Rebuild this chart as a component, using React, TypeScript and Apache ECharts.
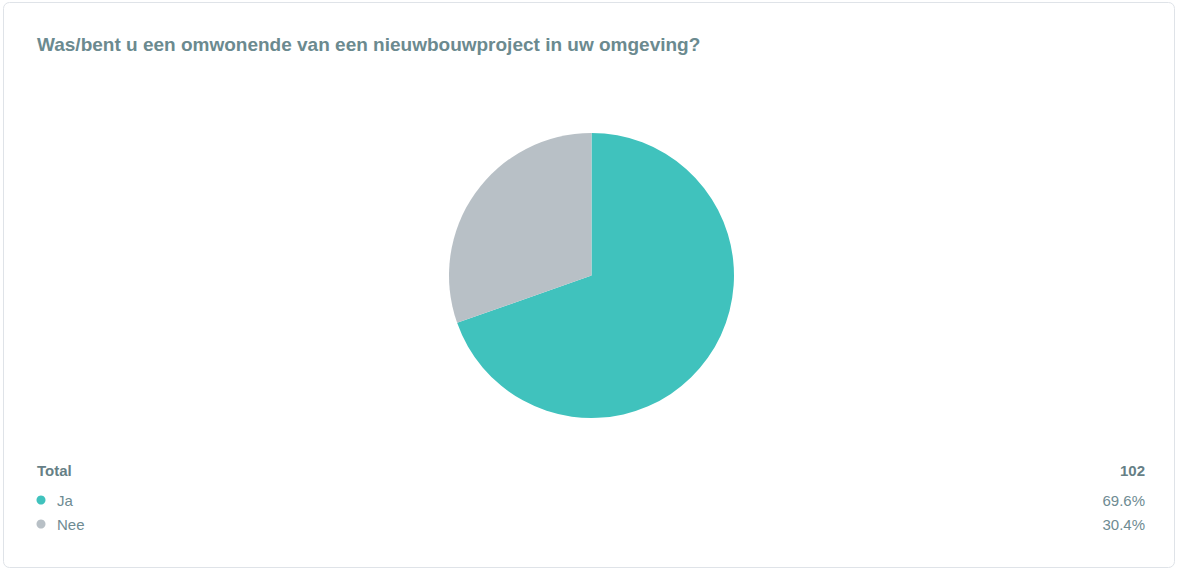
import React, { useEffect, useRef } from "react";
import * as echarts from "echarts";

const titleText = "Was/bent u een omwonende van een nieuwbouwproject in uw omgeving?";
const categories = ["Ja", "Nee"];
const counts = [71, 31];
const colors = ["#40c2bd", "#b8c0c6"];
const totalLabel = "Total";

export default function App() {
  const ref = useRef<HTMLDivElement>(null);
  useEffect(() => {
    if (!ref.current) return;
    const chart = echarts.init(ref.current, null, { renderer: "svg" });
    const total = counts.reduce((a, b) => a + b, 0);
    const pcts = counts.map((c) => ((c / total) * 100).toFixed(1) + "%");
    const font = "Liberation Sans, Arial, sans-serif";
    const textColor = "#6e8b92";
    const graphics: any[] = [
      {
        type: "rect",
        shape: { x: 3.5, y: 2.5, width: 1171, height: 565, r: 6 },
        style: { fill: "#ffffff", stroke: "#dfe3e8", lineWidth: 1 },
        z: -10,
      },
      {
        type: "text",
        x: 37,
        y: 470,
        style: { text: totalLabel, fill: "#667f86", font: `bold 15px ${font}`, textVerticalAlign: "middle" },
      },
      {
        type: "text",
        x: 1145,
        y: 470,
        style: { text: String(total), fill: "#667f86", font: `bold 15px ${font}`, textAlign: "right", textVerticalAlign: "middle" },
      },
    ];
    categories.forEach((cat, i) => {
      const y = 500 + i * 24;
      graphics.push(
        { type: "circle", shape: { cx: 41, cy: y, r: 4.5 }, style: { fill: colors[i] } },
        {
          type: "text",
          x: 57,
          y,
          style: { text: cat, fill: textColor, font: `15px ${font}`, textVerticalAlign: "middle" },
        },
        {
          type: "text",
          x: 1145,
          y,
          style: { text: pcts[i], fill: textColor, font: `15px ${font}`, textAlign: "right", textVerticalAlign: "middle" },
        }
      );
    });
    chart.setOption({
      animation: false,
      backgroundColor: "#ffffff",
      title: {
        text: titleText,
        left: 37,
        top: 35,
        padding: 0,
        textStyle: { fontFamily: font, fontSize: 19, fontWeight: "bold", color: "#6b8a8f" },
      },
      graphic: graphics,
      series: [
        {
          type: "pie",
          center: [591.5, 275.5],
          radius: 142.5,
          startAngle: 90,
          clockwise: true,
          label: { show: false },
          labelLine: { show: false },
          silent: true,
          itemStyle: { borderWidth: 0 },
          data: categories.map((c, i) => ({ name: c, value: counts[i], itemStyle: { color: colors[i] } })),
        },
      ],
    });
    return () => chart.dispose();
  }, []);
  return (
    <div style={{ position: "fixed", left: 0, top: 0, width: 1178, height: 570 }}>
      <div ref={ref} style={{ width: 1178, height: 570 }} />
    </div>
  );
}
